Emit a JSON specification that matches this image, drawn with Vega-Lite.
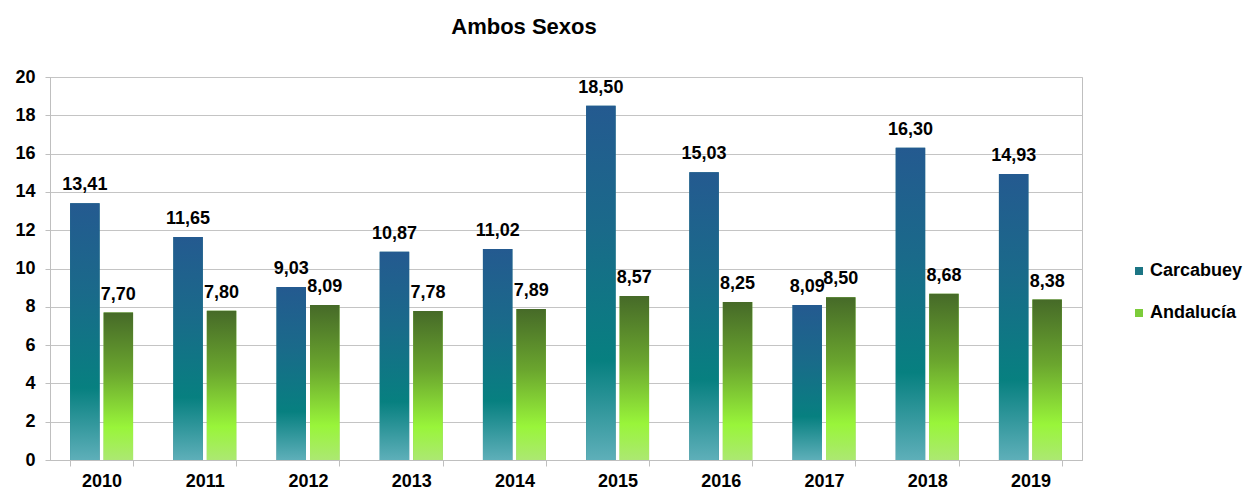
{
  "$schema": "https://vega.github.io/schema/vega-lite/v6.json",
  "width": 1032,
  "height": 383,
  "autosize": {"type": "none"},
  "padding": {"left": 50, "top": 77, "right": 167, "bottom": 31},
  "background": "white",
  "title": {"text": "Ambos Sexos", "font": "Liberation Sans", "fontSize": 22, "fontWeight": "bold", "color": "#000000", "anchor": "middle", "frame": "group", "dx": -42, "offset": 29},
  "config": {
    "locale": {"number": {"decimal": ",", "thousands": ".", "grouping": [3], "currency": ["", " €"]}},
    "view": {"stroke": "#bfbfbf", "strokeWidth": 1},
    "axis": {"labelFont": "Liberation Sans", "labelFontSize": 18, "labelFontWeight": "bold", "labelColor": "#000000", "domainColor": "#bfbfbf", "tickColor": "#bfbfbf", "gridColor": "#c4c4c4", "title": null}
  },
  "data": {"values": [
    {"year": "2010", "serie": "Carcabuey", "value": 13.41},
    {"year": "2011", "serie": "Carcabuey", "value": 11.65},
    {"year": "2012", "serie": "Carcabuey", "value": 9.03},
    {"year": "2013", "serie": "Carcabuey", "value": 10.87},
    {"year": "2014", "serie": "Carcabuey", "value": 11.02},
    {"year": "2015", "serie": "Carcabuey", "value": 18.50},
    {"year": "2016", "serie": "Carcabuey", "value": 15.03},
    {"year": "2017", "serie": "Carcabuey", "value": 8.09},
    {"year": "2018", "serie": "Carcabuey", "value": 16.30},
    {"year": "2019", "serie": "Carcabuey", "value": 14.93},
    {"year": "2010", "serie": "Andalucía", "value": 7.70},
    {"year": "2011", "serie": "Andalucía", "value": 7.80},
    {"year": "2012", "serie": "Andalucía", "value": 8.09},
    {"year": "2013", "serie": "Andalucía", "value": 7.78},
    {"year": "2014", "serie": "Andalucía", "value": 7.89},
    {"year": "2015", "serie": "Andalucía", "value": 8.57},
    {"year": "2016", "serie": "Andalucía", "value": 8.25},
    {"year": "2017", "serie": "Andalucía", "value": 8.50},
    {"year": "2018", "serie": "Andalucía", "value": 8.68},
    {"year": "2019", "serie": "Andalucía", "value": 8.38}
  ]},
  "encoding": {
    "x": {"field": "year", "type": "nominal", "sort": null,
      "scale": {"paddingInner": 0.39, "paddingOuter": 0.195},
      "axis": {"labelAngle": 0, "tickBand": "extent", "tickSize": 6, "labelPadding": 6, "grid": false, "domainColor": "#bfbfbf"}},
    "xOffset": {"field": "serie", "type": "nominal", "scale": {"domain": ["Carcabuey", "Andalucía"], "paddingInner": 0.12, "paddingOuter": 0}},
    "y": {"field": "value", "type": "quantitative",
      "scale": {"domain": [0, 20], "nice": false},
      "axis": {"values": [0, 2, 4, 6, 8, 10, 12, 14, 16, 18, 20], "grid": true, "tickSize": 5, "labelPadding": 10, "domain": true}}
  },
  "layer": [
    {
      "mark": {"type": "bar"},
      "encoding": {
        "color": {"field": "serie", "type": "nominal",
          "scale": {"domain": ["Carcabuey", "Andalucía"], "range": ["#1c7584", "#7ccc3a"]},
          "legend": {"title": null, "orient": "none", "legendX": 1080, "legendY": 185, "symbolType": "square", "symbolSize": 64, "symbolStrokeWidth": 0, "labelFont": "Liberation Sans", "labelFontSize": 18, "labelFontWeight": "bold", "labelColor": "#000000", "labelOffset": 2, "rowPadding": 24, "padding": 0, "offset": 0}}
      }
    },
    {
      "transform": [{"filter": "datum.serie === 'Carcabuey'"}],
      "mark": {"type": "bar", "fill": {"gradient": "linear", "x1": 0, "y1": 0, "x2": 0, "y2": 1, "stops": [
        {"offset": 0, "color": "#245a90"},
        {"offset": 0.35, "color": "#1a6a8a"},
        {"offset": 0.72, "color": "#078080"},
        {"offset": 1, "color": "#5eafb9"}]}}
    },
    {
      "transform": [{"filter": "datum.serie === 'Andalucía'"}],
      "mark": {"type": "bar", "fill": {"gradient": "linear", "x1": 0, "y1": 0, "x2": 0, "y2": 1, "stops": [
        {"offset": 0, "color": "#466a28"},
        {"offset": 0.4, "color": "#6aa52e"},
        {"offset": 0.78, "color": "#99f53a"},
        {"offset": 1, "color": "#ace872"}]}}
    },
    {
      "mark": {"type": "text", "baseline": "bottom", "dy": -9, "font": "Liberation Sans", "fontSize": 18, "fontWeight": "bold", "color": "#000000"},
      "encoding": {"text": {"field": "value", "type": "quantitative", "format": ".2f"}}
    }
  ]
}
